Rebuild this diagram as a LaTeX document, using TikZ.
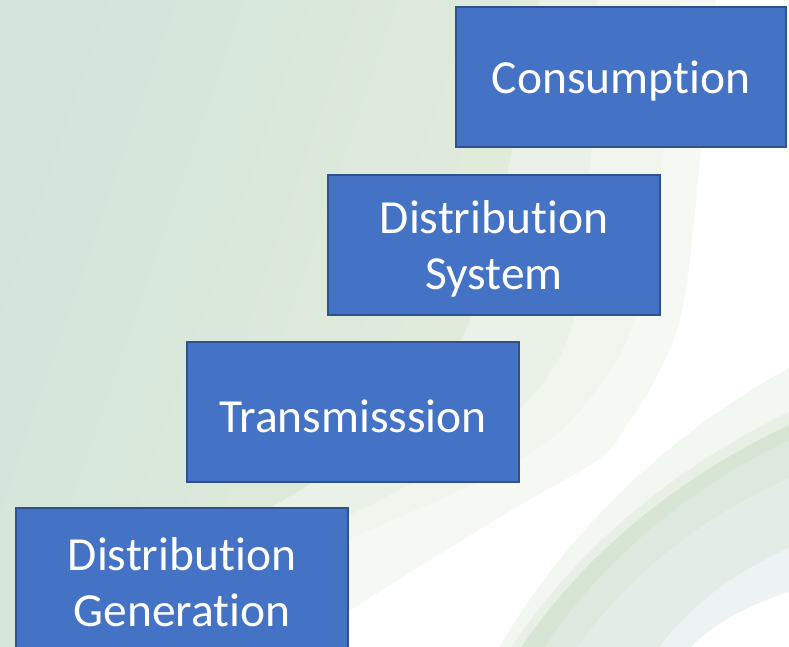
\documentclass[tikz,border=0pt]{standalone}
\usepackage{fontspec}
\setmainfont{Carlito}[Ligatures={NoCommon,NoContextual}]
\definecolor{boxfill}{HTML}{4472C4}
\definecolor{boxline}{HTML}{2F528F}
\definecolor{gA}{HTML}{F5F8F3}
\definecolor{gB}{HTML}{F0F5ED}
\definecolor{gC}{HTML}{EAF1E6}
\definecolor{coreL}{HTML}{D3E4DB}
\definecolor{coreR}{HTML}{E3EDDB}
\definecolor{s1}{HTML}{F3F7F2}
\definecolor{s2}{HTML}{E8F0E6}
\definecolor{s3}{HTML}{D6E5D4}
\definecolor{s4}{HTML}{DDE8DE}
\definecolor{s5}{HTML}{E3ECE7}
\definecolor{s6}{HTML}{EDF2F2}
\newcommand\stgstrut{\rule{0pt}{41pt}}
\begin{document}
\begin{tikzpicture}[x=1pt,y=-1pt,
  stagebox/.style={draw=boxline, line width=1.6pt, fill=boxfill, text=white,
    minimum width=332pt, minimum height=140pt, align=center, inner sep=0pt,
    font=\fontsize{47.5}{56.4}\selectfont}]
\useasboundingbox (0,0) rectangle (789,646);
\begin{scope}
\clip (0,0) rectangle (789,646);
\fill[white] (0,0) rectangle (789,646);
% left green region, layered bands
\fill[gA] plot[smooth, tension=0.6] coordinates {(716,-5) (702,140) (684,300) (660,370) (630,420) (600,458) (520,505) (430,560) (340,617) (295,651)} -- (-5,651) -- (-5,-5) -- cycle;
\fill[gB] plot[smooth, tension=0.6] coordinates {(680,-5) (665,140) (640,300) (600,385) (520,460) (340,543) (200,610) (110,651)} -- (-5,651) -- (-5,-5) -- cycle;
\fill[gC] plot[smooth, tension=0.6] coordinates {(598,-5) (592,140) (578,300) (545,380) (480,440) (380,500) (250,560) (150,620) (100,651)} -- (-5,651) -- (-5,-5) -- cycle;
\shade[left color=coreL, right color=coreR, shading angle=71] plot[smooth, tension=0.6] coordinates {(540,-5) (512,150) (470,320) (400,420) (300,490) (160,570) (60,651)} -- (-5,651) -- (-5,-5) -- cycle;
% bottom-right swoosh bands
\fill[s1] (500,646) .. controls (569,529) and (668,435) .. (789,368) -- (800,368) -- (800,660) -- (500,660) -- cycle;
\fill[s2] (512,646) .. controls (578,548) and (673,468) .. (789,412) -- (800,412) -- (800,660) -- (512,660) -- cycle;
\fill[s3] (522,646) .. controls (586,553) and (677,478) .. (789,425) -- (800,425) -- (800,660) -- (522,660) -- cycle;
\fill[s4] (545,646) .. controls (604,559) and (687,489) .. (789,440) -- (800,440) -- (800,660) -- (545,660) -- cycle;
\fill[s5] (578,646) .. controls (629,575) and (700,518) .. (789,478) -- (800,478) -- (800,660) -- (578,660) -- cycle;
\fill[s6] (660,646) .. controls (691,605) and (735,572) .. (789,548) -- (800,548) -- (800,660) -- (660,660) -- cycle;
\fill[white] (692,646) .. controls (715,623) and (748,605) .. (789,592) -- (800,592) -- (800,660) -- (692,660) -- cycle;
% stage boxes
\node[stagebox, minimum width=330pt] (cons) at (621,77) {\stgstrut Consumption};
\node[stagebox] (dsys) at (494,245) {\stgstrut Distribution\\System};
\node[stagebox] (trans) at (353,412) {\stgstrut Transmisssion};
\node[stagebox] (dgen) at (182,578) {\stgstrut Distribution\\Generation};
\end{scope}
\end{tikzpicture}
\end{document}
